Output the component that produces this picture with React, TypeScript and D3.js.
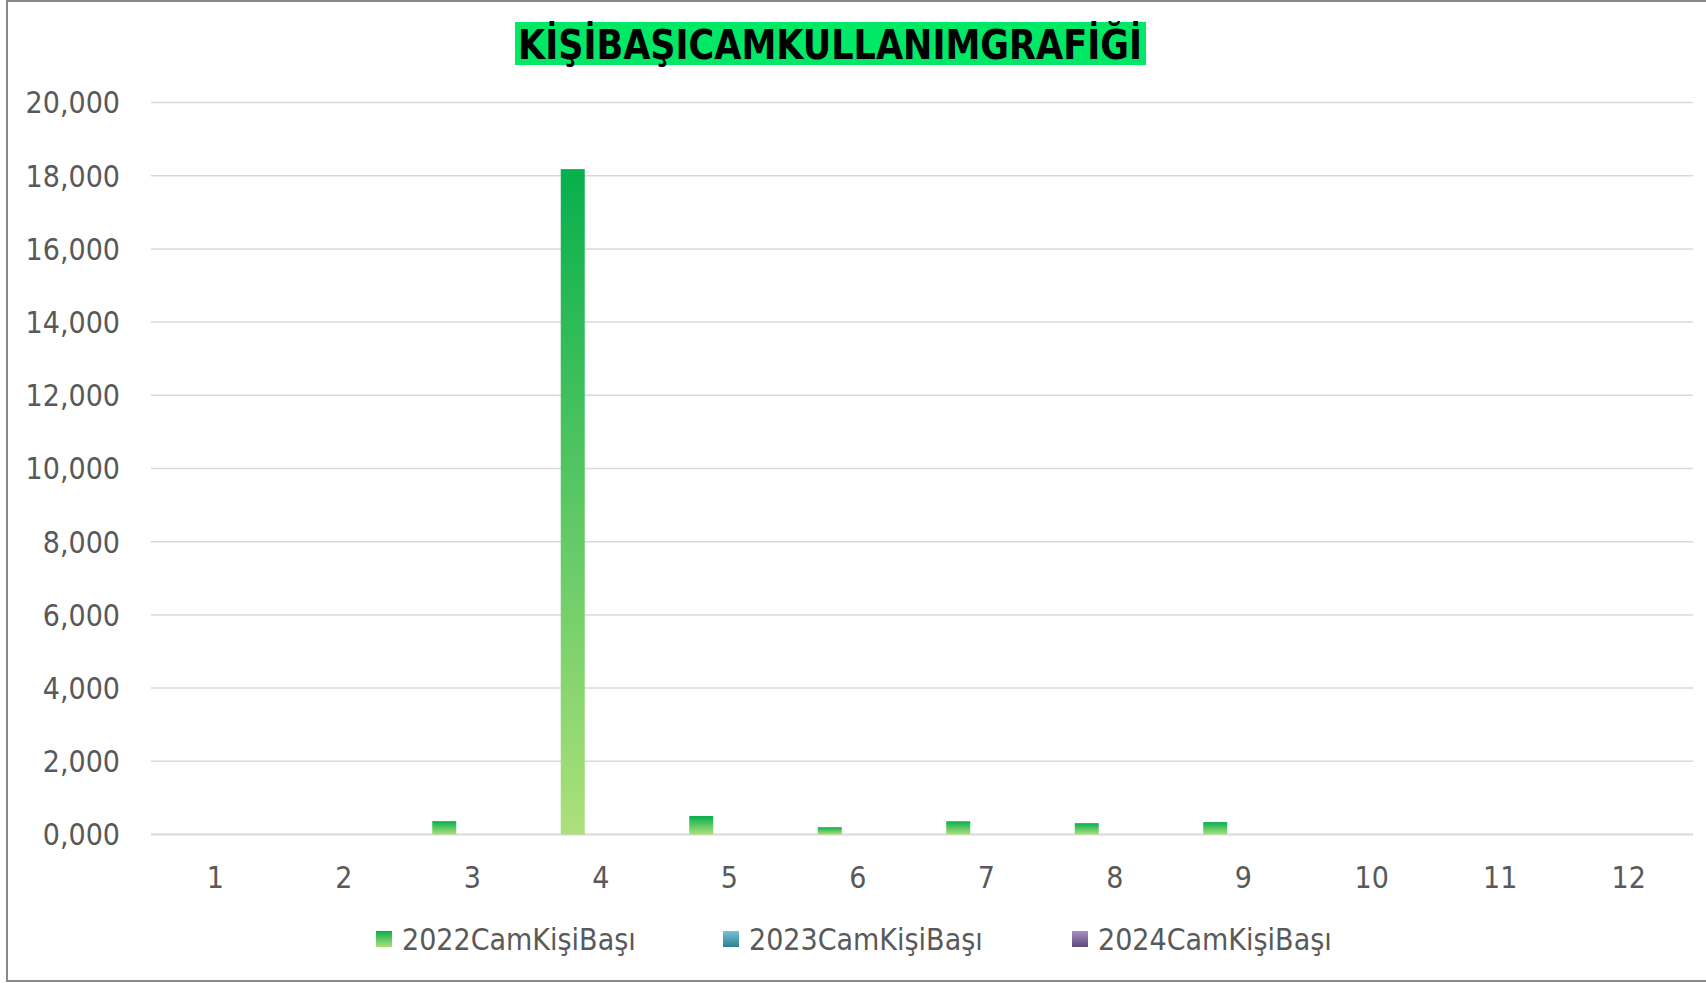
import { useEffect } from "react"
import * as d3 from "d3"

const months = ["1", "2", "3", "4", "5", "6", "7", "8", "9", "10", "11", "12"]
const seriesNames = ["2022CamKişiBaşı", "2023CamKişiBaşı", "2024CamKişiBaşı"]
const values2022 = [0, 0, 365, 18180, 505, 200, 362, 310, 340, 0, 0, 0]
const values2023 = [0, 0, 0, 0, 0, 0, 0, 0, 0, 0, 0, 0]
const values2024 = [0, 0, 0, 0, 0, 0, 0, 0, 0, 0, 0, 0]
const yTicks = [0, 2000, 4000, 6000, 8000, 10000, 12000, 14000, 16000, 18000, 20000]
const yTickLabels = ["0,000", "2,000", "4,000", "6,000", "8,000", "10,000", "12,000", "14,000", "16,000", "18,000", "20,000"]
const title = "KİŞİBAŞICAMKULLANIMGRAFİĞİ"

// gradient stops per series (top, bottom)
const gradients = [
    ["#07af4d", "#ade07a"],
    ["#75c3d6", "#2e7f8f"],
    ["#a590c2", "#5e4a7e"],
]

const W = 1706
const H = 983
const font = "'DejaVu Sans Condensed', 'DejaVu Sans', sans-serif"

const App = () => {
    useEffect(() => {
        document.body.style.margin = "0"
    }, [])

    const allSeries = [values2022, values2023, values2024]

    const x0 = d3
        .scaleBand()
        .domain(months)
        .range([151, 1693])
        .paddingInner(0.315)
        .paddingOuter(0.1575)

    const x1 = d3
        .scaleBand()
        .domain(seriesNames)
        .range([0, x0.bandwidth()])
        .padding(1 / 7)

    const y = d3.scaleLinear().domain([0, 20000]).range([834.5, 102.5])

    const legendX = [376, 723, 1072]

    return (
        <svg width={W} height={H} style={{ display: "block", background: "#fff" }}>
            <defs>
                {gradients.map((g, i) => (
                    <linearGradient key={i} id={`grad${i}`} x1="0" y1="0" x2="0" y2="1">
                        <stop offset="0" stopColor={g[0]} />
                        <stop offset="1" stopColor={g[1]} />
                    </linearGradient>
                ))}
            </defs>

            <rect x={7} y={1} width={W + 10} height={980} fill="#fff" stroke="#898989" strokeWidth={2} />

            {/* title */}
            <rect x={515} y={22} width={631} height={43} fill="#00e865" />
            <text
                x={518}
                y={59}
                fontFamily="'DejaVu Sans Condensed', 'DejaVu Sans', sans-serif"
                fontWeight="bold"
                fontSize={41}
                fill="#000"
                textLength={624}
                lengthAdjust="spacingAndGlyphs"
            >
                {title}
            </text>

            {/* grid + y labels */}
            {yTicks.map((t, i) => (
                <g key={t}>
                    <line x1={151} x2={1693} y1={y(t)} y2={y(t)} stroke="#d9d9d9" strokeWidth={t === 0 ? 2 : 1.5} />
                    <text
                        x={120}
                        y={y(t)}
                        dy="0.36em"
                        textAnchor="end"
                        fontFamily={font}
                        fontSize={30}
                        fill="#595959"
                    >
                        {yTickLabels[i]}
                    </text>
                </g>
            ))}

            {/* bars */}
            {allSeries.map((vals, si) => (
                <g key={si}>
                    {vals.map((v, mi) =>
                        v > 0 ? (
                            <rect
                                key={mi}
                                x={(x0(months[mi]) ?? 0) + (x1(seriesNames[si]) ?? 0)}
                                y={y(v)}
                                width={x1.bandwidth()}
                                height={y(0) - y(v)}
                                fill={`url(#grad${si})`}
                            />
                        ) : null
                    )}
                </g>
            ))}

            {/* x labels */}
            {months.map(m => (
                <text
                    key={m}
                    x={(x0(m) ?? 0) + x0.bandwidth() / 2}
                    y={877}
                    dy="0.36em"
                    textAnchor="middle"
                    fontFamily={font}
                    fontSize={30}
                    fill="#595959"
                >
                    {m}
                </text>
            ))}

            {/* legend */}
            {seriesNames.map((s, i) => (
                <g key={s} transform={`translate(${legendX[i]}, 939)`}>
                    <rect x={0} y={-8} width={16} height={16} fill={`url(#grad${i})`} />
                    <text x={26} y={0} dy="0.36em" fontFamily={font} fontSize={30} fill="#595959">
                        {s}
                    </text>
                </g>
            ))}
        </svg>
    )
}

export default App
